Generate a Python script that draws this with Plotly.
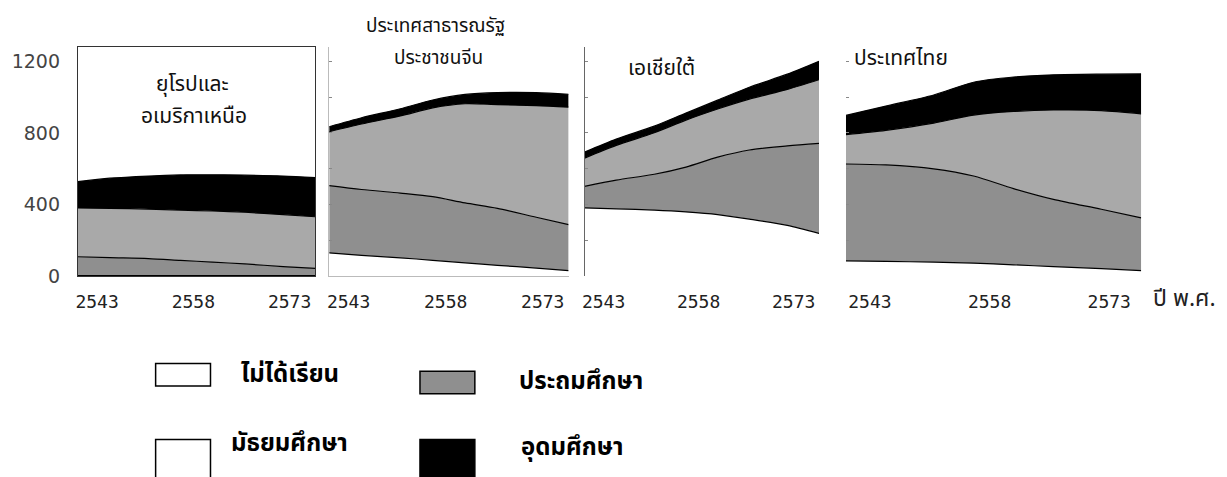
import plotly.graph_objects as go

# ---------------- data ----------------
YEARS = [2540, 2545, 2551, 2556, 2561, 2566, 2572, 2577]
TICK_YEARS = [2543, 2558, 2573]
Y_TICKS = [0, 400, 800, 1200]

LEVELS = ["ไม่ได้เรียน", "ประถมศึกษา", "มัธยมศึกษา", "อุดมศึกษา"]

# Europe & North America
eu_none = [5, 5, 5, 5, 5, 5, 5, 5]
eu_primary = [105, 100, 95, 85, 75, 65, 50, 40]
eu_secondary = [272, 275, 276, 280, 285, 288, 290, 288]
eu_tertiary = [147, 168, 184, 196, 202, 207, 215, 218]

# China
cn_none = [131, 118, 104, 90, 76, 62, 47, 33]
cn_primary = [376, 367, 361, 355, 334, 318, 283, 256]
cn_secondary = [300, 365, 430, 495, 553, 578, 622, 655]
cn_tertiary = [28, 35, 40, 44, 52, 67, 73, 72]

# South Asia
sa_none = [382, 377, 370, 360, 345, 320, 285, 240]
sa_primary = [120, 160, 200, 250, 320, 385, 443, 502]
sa_secondary = [158, 194, 231, 262, 269, 284, 315, 355]
sa_tertiary = [33, 35, 37, 39, 49, 66, 85, 103]

# Thailand
th_none = [87, 84, 80, 74, 65, 55, 44, 33]
th_primary = [540, 538, 520, 486, 425, 375, 331, 294]
th_secondary = [164, 193, 255, 340, 430, 498, 550, 580]
th_tertiary = [107, 135, 157, 183, 192, 196, 203, 222]

SERIES = [
    [eu_none, eu_primary, eu_secondary, eu_tertiary],
    [cn_none, cn_primary, cn_secondary, cn_tertiary],
    [sa_none, sa_primary, sa_secondary, sa_tertiary],
    [th_none, th_primary, th_secondary, th_tertiary],
]

# ---------------- style ----------------
W, H = 1227, 477
FILLS = ["#ffffff", "#8f8f8f", "#a9a9a9", "#000000"]
THAI = "Noto Sans Thai, Loma, Garuda, Tahoma, DejaVu Sans, sans-serif"
X_DOMAINS_PX = [(75, 313), (327, 567), (583, 818), (845, 1141)]
PLOT_TOP_PX, PLOT_BOTTOM_PX = 48, 283


def px_x(v):
    return v / W


def px_y(v):
    return 1 - v / H


fig = go.Figure()

for i, layers in enumerate(SERIES):
    n = "" if i == 0 else str(i + 1)
    for j, vals in enumerate(layers):
        fig.add_trace(go.Scatter(
            x=YEARS, y=vals, name=LEVELS[j],
            xaxis="x" + n, yaxis="y" + n,
            stackgroup="g" + str(i), mode="lines",
            line=dict(color="#000000", width=1.2, shape="spline", smoothing=0.8),
            fillcolor=FILLS[j], showlegend=False, hoverinfo="skip",
        ))

layout = dict(
    width=W, height=H,
    margin=dict(l=0, r=0, t=0, b=0),
    paper_bgcolor="white", plot_bgcolor="white",
    showlegend=False,
)

line_colors = ["#333333", "#bbbbbb", "#ffffff", "#ffffff"]
yline_colors = ["#333333", "#bbbbbb", "#666666", "#ffffff"]
for i, (x0, x1) in enumerate(X_DOMAINS_PX):
    n = "" if i == 0 else str(i + 1)
    xa = dict(
        domain=[px_x(x0), px_x(x1)], range=[YEARS[0], YEARS[-1]],
        anchor="y" + n, tickvals=TICK_YEARS, ticks="", showgrid=False, zeroline=False,
        tickfont=dict(family="DejaVu Sans Mono", size=18, color="#222"),
        ticklabelstandoff=9,
        showline=True, linecolor=line_colors[i], linewidth=1,
        mirror=(i == 0),
    )
    ya = dict(
        domain=[px_y(PLOT_BOTTOM_PX), px_y(PLOT_TOP_PX)], range=[0, 1280],
        anchor="x" + n, showgrid=False, zeroline=False,
        showline=(i < 3), linecolor=yline_colors[i], linewidth=1,
        mirror=(i == 0),
    )
    if i == 0:
        ya.update(tickvals=Y_TICKS, ticks="", ticklabelstandoff=13,
                  tickfont=dict(family="DejaVu Sans", size=19, color="#444"))
    else:
        ya.update(showticklabels=False, ticks="inside", ticklen=3, dtick=200,
                  tickcolor="#888")
    layout["xaxis" + n] = xa
    layout["yaxis" + n] = ya

fig.update_layout(**layout)

# panel titles: (text, x, y, size)
title_pos = [
    ("ยุโรปและ", 190, 86, 21), ("อเมริกาเหนือ", 191, 119, 21),
    ("ประเทศสาธารณรัฐ", 434, 27, 19), ("ประชาชนจีน", 437, 60, 19),
    ("เอเชียใต้", 660, 70, 21),
    ("ประเทศไทย", 900, 60, 21),
]
for txt, x, y, sz in title_pos:
    fig.add_annotation(text=txt, x=px_x(x), y=px_y(y), xref="paper", yref="paper",
                       showarrow=False, xanchor="center", yanchor="middle",
                       font=dict(family=THAI, size=sz, color="#111"))

# x-axis unit
fig.add_annotation(text="ปี พ.ศ.", x=px_x(1184), y=px_y(306), xref="paper", yref="paper",
                   showarrow=False, xanchor="center", yanchor="middle",
                   font=dict(family=THAI, size=23, color="#222"))

# custom legend
legend_items = [
    (LEVELS[0], FILLS[0], (153, 372, 208, 395), (237, 384)),
    (LEVELS[1], FILLS[1], (418, 380, 473, 403), (515, 391)),
    (LEVELS[2], "#ffffff", (153, 450, 208, 490), (227, 454)),
    (LEVELS[3], FILLS[3], (418, 450, 473, 490), (517, 459)),
]
for label, fill, (bx0, by0, bx1, by1), (tx, ty) in legend_items:
    fig.add_shape(type="rect", xref="paper", yref="paper",
                  x0=px_x(bx0), x1=px_x(bx1), y0=px_y(by1), y1=px_y(by0),
                  fillcolor=fill, line=dict(color="#000", width=1.5))
    fig.add_annotation(text="<b>" + label + "</b>", x=px_x(tx), y=px_y(ty),
                       xref="paper", yref="paper", showarrow=False,
                       xanchor="left", yanchor="middle",
                       font=dict(family=THAI, size=24, color="#000"))

fig.write_html("out.html", config={"displayModeBar": False},
               post_script="document.body.style.margin='0';")
